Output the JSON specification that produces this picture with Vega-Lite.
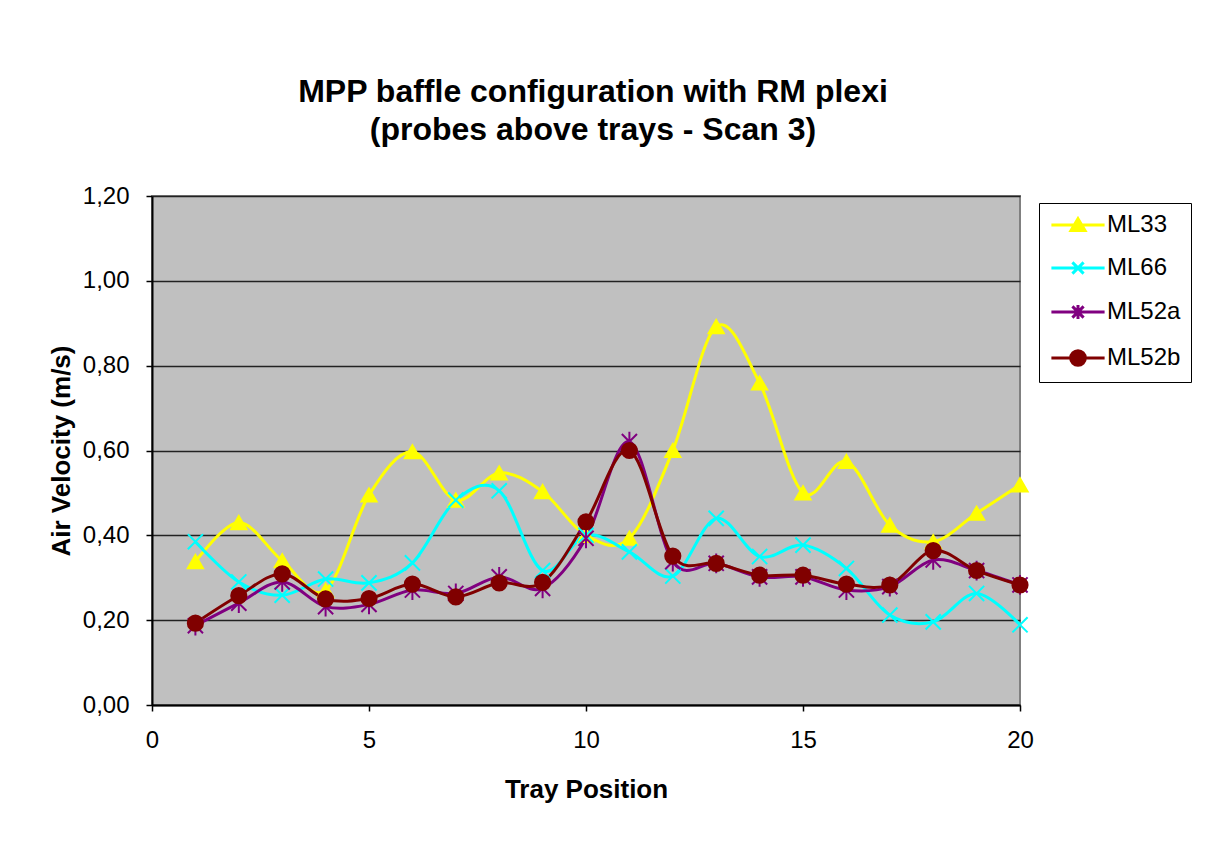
{
  "$schema": "https://vega.github.io/schema/vega-lite/v6.json",
  "autosize": {"type": "none"},
  "width": 868,
  "height": 509,
  "padding": {"left": 152, "top": 196, "right": 203, "bottom": 136},
  "background": "white",
  "config": {
    "locale": {"number": {"decimal": ",", "thousands": ".", "grouping": [3], "currency": ["€", ""]}},
    "font": "Liberation Sans",
    "view": {"fill": "#C0C0C0", "stroke": "#808080", "strokeWidth": 2}
  },
  "title": {
    "text": ["MPP baffle configuration with RM plexi", "(probes above trays - Scan 3)"],
    "font": "Liberation Sans",
    "fontSize": 32,
    "fontWeight": "bold",
    "color": "black",
    "lineHeight": 38,
    "anchor": "middle",
    "frame": "group",
    "dx": 7,
    "offset": 37
  },
  "data": {
    "values": [
      {"x": 1, "series": "ML33", "v": 0.338}, {"x": 2, "series": "ML33", "v": 0.43}, {"x": 3, "series": "ML33", "v": 0.34}, {"x": 4, "series": "ML33", "v": 0.27},
      {"x": 5, "series": "ML33", "v": 0.495}, {"x": 6, "series": "ML33", "v": 0.597}, {"x": 7, "series": "ML33", "v": 0.483}, {"x": 8, "series": "ML33", "v": 0.547},
      {"x": 9, "series": "ML33", "v": 0.503}, {"x": 10, "series": "ML33", "v": 0.40}, {"x": 11, "series": "ML33", "v": 0.393}, {"x": 12, "series": "ML33", "v": 0.60},
      {"x": 13, "series": "ML33", "v": 0.892}, {"x": 14, "series": "ML33", "v": 0.759}, {"x": 15, "series": "ML33", "v": 0.50}, {"x": 16, "series": "ML33", "v": 0.574},
      {"x": 17, "series": "ML33", "v": 0.424}, {"x": 18, "series": "ML33", "v": 0.385}, {"x": 19, "series": "ML33", "v": 0.452}, {"x": 20, "series": "ML33", "v": 0.519},
      {"x": 1, "series": "ML66", "v": 0.385}, {"x": 2, "series": "ML66", "v": 0.29}, {"x": 3, "series": "ML66", "v": 0.259}, {"x": 4, "series": "ML66", "v": 0.297},
      {"x": 5, "series": "ML66", "v": 0.288}, {"x": 6, "series": "ML66", "v": 0.335}, {"x": 7, "series": "ML66", "v": 0.483}, {"x": 8, "series": "ML66", "v": 0.505},
      {"x": 9, "series": "ML66", "v": 0.317}, {"x": 10, "series": "ML66", "v": 0.40}, {"x": 11, "series": "ML66", "v": 0.361}, {"x": 12, "series": "ML66", "v": 0.304},
      {"x": 13, "series": "ML66", "v": 0.44}, {"x": 14, "series": "ML66", "v": 0.35}, {"x": 15, "series": "ML66", "v": 0.377}, {"x": 16, "series": "ML66", "v": 0.322},
      {"x": 17, "series": "ML66", "v": 0.212}, {"x": 18, "series": "ML66", "v": 0.196}, {"x": 19, "series": "ML66", "v": 0.263}, {"x": 20, "series": "ML66", "v": 0.189},
      {"x": 1, "series": "ML52a", "v": 0.187}, {"x": 2, "series": "ML52a", "v": 0.24}, {"x": 3, "series": "ML52a", "v": 0.29}, {"x": 4, "series": "ML52a", "v": 0.232},
      {"x": 5, "series": "ML52a", "v": 0.237}, {"x": 6, "series": "ML52a", "v": 0.271}, {"x": 7, "series": "ML52a", "v": 0.263}, {"x": 8, "series": "ML52a", "v": 0.302},
      {"x": 9, "series": "ML52a", "v": 0.275}, {"x": 10, "series": "ML52a", "v": 0.393}, {"x": 11, "series": "ML52a", "v": 0.621}, {"x": 12, "series": "ML52a", "v": 0.338},
      {"x": 13, "series": "ML52a", "v": 0.334}, {"x": 14, "series": "ML52a", "v": 0.302}, {"x": 15, "series": "ML52a", "v": 0.302}, {"x": 16, "series": "ML52a", "v": 0.271},
      {"x": 17, "series": "ML52a", "v": 0.279}, {"x": 18, "series": "ML52a", "v": 0.342}, {"x": 19, "series": "ML52a", "v": 0.317}, {"x": 20, "series": "ML52a", "v": 0.283},
      {"x": 1, "series": "ML52b", "v": 0.193}, {"x": 2, "series": "ML52b", "v": 0.258}, {"x": 3, "series": "ML52b", "v": 0.309}, {"x": 4, "series": "ML52b", "v": 0.25},
      {"x": 5, "series": "ML52b", "v": 0.251}, {"x": 6, "series": "ML52b", "v": 0.285}, {"x": 7, "series": "ML52b", "v": 0.255}, {"x": 8, "series": "ML52b", "v": 0.288},
      {"x": 9, "series": "ML52b", "v": 0.289}, {"x": 10, "series": "ML52b", "v": 0.432}, {"x": 11, "series": "ML52b", "v": 0.60}, {"x": 12, "series": "ML52b", "v": 0.351},
      {"x": 13, "series": "ML52b", "v": 0.334}, {"x": 14, "series": "ML52b", "v": 0.306}, {"x": 15, "series": "ML52b", "v": 0.306}, {"x": 16, "series": "ML52b", "v": 0.285},
      {"x": 17, "series": "ML52b", "v": 0.283}, {"x": 18, "series": "ML52b", "v": 0.364}, {"x": 19, "series": "ML52b", "v": 0.317}, {"x": 20, "series": "ML52b", "v": 0.283}
    ]
  },
  "encoding": {
    "x": {
      "field": "x", "type": "quantitative",
      "scale": {"domain": [0, 20], "nice": false, "zero": false},
      "axis": {
        "title": "Tray Position", "values": [0, 5, 10, 15, 20], "grid": false, "labelFlush": false,
        "domainColor": "black", "domainWidth": 2, "tickColor": "black", "tickWidth": 1.5, "tickSize": 6,
        "labelFont": "Liberation Sans", "labelFontSize": 24, "labelColor": "black", "labelPadding": 17,
        "titleFont": "Liberation Sans", "titleFontSize": 26, "titleFontWeight": "bold", "titleColor": "black", "titlePadding": 24
      }
    },
    "y": {
      "field": "v", "type": "quantitative",
      "scale": {"domain": [0, 1.2], "nice": false},
      "axis": {
        "title": "Air Velocity (m/s)", "values": [0, 0.2, 0.4, 0.6, 0.8, 1.0, 1.2], "format": ".2f", "labelFlush": false,
        "grid": true, "gridColor": "#222222", "gridWidth": 1.5,
        "domainColor": "black", "domainWidth": 2, "tickColor": "black", "tickWidth": 1.5, "tickSize": 6,
        "labelFont": "Liberation Sans", "labelFontSize": 24, "labelColor": "black", "labelPadding": 17,
        "titleFont": "Liberation Sans", "titleFontSize": 26, "titleFontWeight": "bold", "titleColor": "black", "titlePadding": 8
      }
    }
  },
  "layer": [
    {
      "mark": {"type": "line", "interpolate": "cardinal", "strokeWidth": 3},
      "encoding": {
        "color": {
          "field": "series", "type": "nominal",
          "scale": {"domain": ["ML33", "ML66", "ML52a", "ML52b"], "range": ["#FFFF00", "#00FFFF", "#800080", "#800000"]},
          "legend": {
            "title": null, "orient": "none", "legendX": 887, "legendY": 7,
            "direction": "vertical",
            "fillColor": "white", "strokeColor": "black", "padding": 10,
            "symbolSize": 196, "symbolOffset": 17, "labelOffset": 17, "rowPadding": 19,
            "labelFont": "Liberation Sans", "labelFontSize": 24, "labelColor": "black",
            "encode": {
              "symbols": {
                "update": {
                  "shape": {"signal": "datum.value === 'ML33' ? 'M-3.8,0L3.8,0M0,-0.9L1,0.8L-1,0.8Z' : datum.value === 'ML66' ? 'M-3.8,0L3.8,0M-0.8,-0.8L0.8,0.8M-0.8,0.8L0.8,-0.8' : datum.value === 'ML52a' ? 'M-3.8,0L3.8,0M-0.8,-0.8L0.8,0.8M-0.8,0.8L0.8,-0.8M0,-1L0,1' : 'M-3.8,0L3.8,0M1.05,0A1.05,1.05 0 1,1 -1.05,0A1.05,1.05 0 1,1 1.05,0Z'"},
                  "fill": {"signal": "scale('color', datum.value)"},
                  "stroke": {"signal": "scale('color', datum.value)"},
                  "strokeWidth": {"value": 3},
                  "fillOpacity": {"value": 1},
                  "opacity": {"value": 1}
                }
              }
            }
          }
        }
      }
    },
    {
      "mark": {"type": "point", "filled": true, "strokeWidth": 2, "opacity": 1},
      "encoding": {
        "fill": {
          "field": "series", "type": "nominal",
          "scale": {"range": ["#FFFF00", "#800080", "#800000", "#00FFFF"]},
          "legend": null
        },
        "stroke": {
          "field": "series", "type": "nominal",
          "scale": {"range": ["#FFFF00", "#800080", "#800000", "#00FFFF"]},
          "legend": null
        },
        "shape": {
          "field": "series", "type": "nominal",
          "scale": {"range": ["triangle-up", "M-1,-1L1,1M-1,1L1,-1M0,-1.3L0,1.3", "circle", "M-1,-1L1,1M-1,1L1,-1"]},
          "legend": null
        },
        "size": {"value": 230}
      }
    }
  ]
}
